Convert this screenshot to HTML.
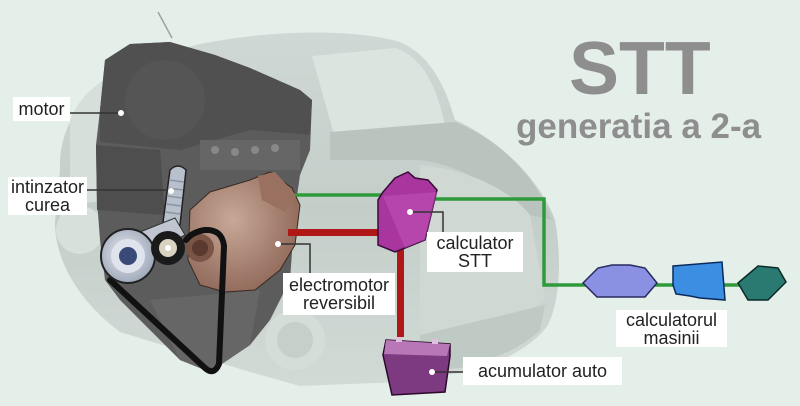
<!DOCTYPE html>
<html><head><meta charset="utf-8">
<style>
html,body{margin:0;padding:0;}
body{width:800px;height:406px;overflow:hidden;background:#e5efe9;position:relative;font-family:"Liberation Sans",sans-serif;}
svg{position:absolute;left:0;top:0;}
.lb{position:absolute;background:#fff;color:#222;font-size:18px;line-height:18px;display:flex;align-items:center;justify-content:center;text-align:center;white-space:nowrap;}
.t1{position:absolute;left:569px;top:28px;font-size:75px;font-weight:bold;color:#8e8e8e;line-height:80px;letter-spacing:0px;}
.t2{position:absolute;left:516px;top:107px;font-size:35px;font-weight:bold;color:#8e8e8e;line-height:40px;}
</style></head><body>
<svg width="800" height="406" viewBox="0 0 800 406">
  <defs>
    <radialGradient id="alt" cx="0.4" cy="0.4" r="0.7">
      <stop offset="0" stop-color="#c8a898"/>
      <stop offset="1" stop-color="#8a6252"/>
    </radialGradient>
    <radialGradient id="pul" cx="0.45" cy="0.45" r="0.6">
      <stop offset="0" stop-color="#e8ecf4"/>
      <stop offset="1" stop-color="#9aa4b4"/>
    </radialGradient>
    <linearGradient id="car" x1="0" y1="0" x2="0" y2="1">
      <stop offset="0" stop-color="#cfd8d4"/>
      <stop offset="0.5" stop-color="#c4cec9"/>
      <stop offset="1" stop-color="#d2dad6"/>
    </linearGradient>
  </defs>
  <!-- car silhouette -->
  <path d="M60,170 C58,120 90,85 140,60 L200,44 C280,28 360,30 400,42 C430,55 445,85 455,120 C500,140 540,180 555,220 C562,260 560,300 548,325 C530,350 500,360 480,370 L400,382 L300,386 L250,372 L120,332 C80,302 55,262 55,222 Z" fill="url(#car)"/>
  <path d="M312,56 L395,48 C420,56 435,80 445,125 L335,138 Z" fill="#dbe4df"/>
  <path d="M330,132 L455,122 C500,140 535,175 552,220 L525,214 C490,185 460,165 420,160 L330,160 Z" fill="#b9c4bf"/>
  <path d="M70,120 C80,95 100,80 120,72 L110,200 L70,205 Z" fill="#d6dfda"/>
  <path d="M420,165 C470,170 510,190 530,215 L545,300 L500,330 L420,335 Z" fill="#d0d8d4"/>
  <path d="M420,335 L545,305 L540,330 C520,350 490,360 460,368 L420,372 Z" fill="#c0cac5"/>
  <circle cx="80" cy="230" r="24" fill="#d8e0dc"/>
  <circle cx="295" cy="340" r="30" fill="#d5ddd9"/>
  <circle cx="295" cy="340" r="18" fill="#c6cfca"/>
  <line x1="158" y1="12" x2="172" y2="38" stroke="#9aa4a0" stroke-width="1.5"/>
  <!-- engine -->
  <path d="M105,60 L130,44 L170,42 L215,55 L250,68 L300,90 L312,100 L310,150 L300,175 L295,210 L290,280 L270,320 L250,345 L210,372 L180,360 L150,330 L120,300 L105,280 L100,240 L97,200 L96,145 L100,110 Z" fill="#5c5c5c"/>
  <path d="M105,60 L130,44 L170,42 L215,55 L250,68 L300,90 L312,100 L310,135 L250,130 L180,150 L100,142 L100,110 Z" fill="#505050"/>
  <circle cx="165" cy="100" r="40" fill="#555"/>
  <path d="M96,145 L160,150 L165,215 L97,210 Z" fill="#4e4e4e"/>
  <rect x="200" y="140" width="100" height="30" fill="#666"/>
  <circle cx="215" cy="150" r="4" fill="#888"/><circle cx="235" cy="152" r="4" fill="#888"/><circle cx="255" cy="150" r="4" fill="#888"/><circle cx="275" cy="148" r="4" fill="#888"/>
  <path d="M150,300 L260,290 L250,345 L210,372 L180,360 Z" fill="#666"/>
  <!-- alternator -->
  <path d="M250,180 L270,172 L292,188 L300,205 L295,245 L280,270 L255,290 L225,292 L200,285 L188,260 L190,210 L210,192 Z" fill="url(#alt)" stroke="#3a2a22" stroke-width="1"/>
  <path d="M258,176 L275,172 L296,195 L285,212 L262,200 Z" fill="#9a7060"/>
  <circle cx="200" cy="248" r="14" fill="#7a5444"/>
  <circle cx="200" cy="248" r="8" fill="#5a3a2e"/>
  <!-- belt -->
  <path d="M110,280 L205,368 Q214,376 219,364 L224,246 Q222,229 205,230 Q192,232 186,240" fill="none" stroke="#111" stroke-width="6" stroke-linejoin="round" stroke-linecap="round"/>
  <!-- tensioner column -->
  <path d="M170,170 Q178,162 186,170 L180,225 L163,222 Z" fill="#b8c0cc" stroke="#222" stroke-width="1.5"/>
  <g stroke="#8a94a4" stroke-width="1.5"><line x1="169" y1="180" x2="184" y2="182"/><line x1="168" y1="188" x2="183" y2="190"/><line x1="167" y1="196" x2="182" y2="198"/><line x1="166" y1="204" x2="181" y2="206"/><line x1="165" y1="212" x2="180" y2="214"/></g>
  <path d="M140,232 L175,218 L185,235 L155,250 Z" fill="#c0c6d0" stroke="#333" stroke-width="1"/>
  <!-- crank pulley -->
  <circle cx="128" cy="256" r="27" fill="url(#pul)" stroke="#222" stroke-width="2"/>
  <circle cx="128" cy="256" r="17" fill="#dfe4ec"/>
  <circle cx="128" cy="256" r="9" fill="#3a4a78"/>
  <!-- tensioner pulley -->
  <circle cx="168" cy="248" r="17" fill="#1a1a1a"/>
  <circle cx="168" cy="248" r="9" fill="#d8d2c0"/>
  <circle cx="168" cy="248" r="3" fill="#fff"/>
  <!-- wiring -->
  <polyline points="295,195 383,195" fill="none" stroke="#2e9a3a" stroke-width="3.5"/>
  <polyline points="435,199 544,199 544,285 748,285" fill="none" stroke="#2e9a3a" stroke-width="3.5"/>
  <rect x="288" y="229" width="96" height="7" fill="#b01818"/>
  <rect x="397" y="240" width="7" height="97" fill="#b01818"/>
  <!-- STT calculator -->
  <path d="M383,192 L395,178 L408,172 L415,178 L428,180 L437,190 L425,240 L405,248 L395,252 L378,245 L378,200 Z" fill="#a8369e" stroke="#3a0a38" stroke-width="1.5"/>
  <path d="M383,196 L437,192 L425,240 L405,248 Z" fill="#c050b6" opacity="0.6"/>
  <!-- battery -->
  <path d="M386,340 L450,344 L450,356 L445,392 L392,395 L383,355 Z" fill="#7e3a80" stroke="#2a0a2a" stroke-width="1.5"/>
  <path d="M386,340 L450,344 L447,356 L384,354 Z" fill="#b878b8"/>
  <rect x="396" y="337" width="6" height="5" fill="#e0c0e0"/><rect x="432" y="339" width="6" height="5" fill="#e0c0e0"/>
  <!-- right components -->
  <path d="M583,283 L598,268 L612,265 L630,265 L645,268 L657,283 L645,297 L597,297 Z" fill="#8a90e2" stroke="#2a2a60" stroke-width="1.5"/>
  <path d="M673,266 L722,262 L725,300 L700,298 L690,296 L676,294 L673,285 Z" fill="#3c8ee2" stroke="#0a2a5a" stroke-width="1.5"/>
  <path d="M738,283 L758,266 L778,268 L786,282 L768,300 L748,300 Z" fill="#2a7a72" stroke="#0a2a28" stroke-width="1.5"/>
  <!-- connectors -->
  <g stroke="#333" stroke-width="1.5" fill="none">
    <line x1="70" y1="113" x2="121" y2="113"/>
    <line x1="87" y1="190" x2="170" y2="190"/>
    <polyline points="278,244 310,244 310,273"/>
    <polyline points="410,212 443,212 443,232"/>
    <line x1="432" y1="372" x2="463" y2="372"/>
  </g>
  <g fill="#fff">
    <circle cx="121" cy="113" r="3"/>
    <circle cx="171" cy="191" r="3"/>
    <circle cx="278" cy="244" r="3"/>
    <circle cx="410" cy="212" r="3"/>
    <circle cx="432" cy="372" r="3"/>
  </g>
</svg>
<div class="t1">STT</div>
<div class="t2">generatia a 2-a</div>
<div class="lb" style="left:13px;top:97px;width:57px;height:24px;">motor</div>
<div class="lb" style="left:8px;top:177px;width:79px;height:38px;">intinzator<br>curea</div>
<div class="lb" style="left:283px;top:273px;width:112px;height:42px;">electromotor<br>reversibil</div>
<div class="lb" style="left:427px;top:232px;width:96px;height:40px;">calculator<br>STT</div>
<div class="lb" style="left:616px;top:310px;width:111px;height:37px;">calculatorul<br>masinii</div>
<div class="lb" style="left:463px;top:357px;width:159px;height:28px;">acumulator auto</div>
</body></html>
